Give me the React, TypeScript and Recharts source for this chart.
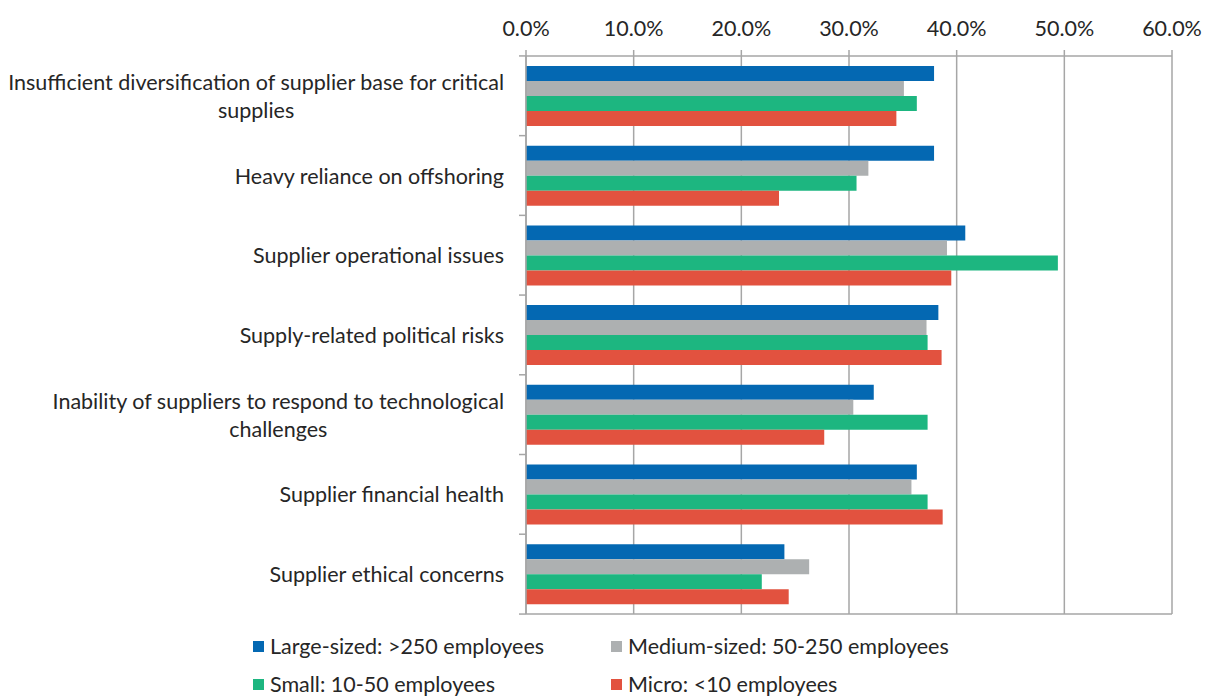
import React from 'react';
import { BarChart, Bar, XAxis, YAxis, CartesianGrid } from 'recharts';

const categories = [
  'Insufficient diversification of supplier base for critical supplies',
  'Heavy reliance on offshoring',
  'Supplier operational issues',
  'Supply-related political risks',
  'Inability of suppliers to respond to technological challenges',
  'Supplier financial health',
  'Supplier ethical concerns',
];

const largeSized = [37.9, 37.9, 40.8, 38.3, 32.3, 36.3, 24.0];
const mediumSized = [35.1, 31.8, 39.1, 37.2, 30.4, 35.8, 26.3];
const smallSized = [36.3, 30.7, 49.4, 37.3, 37.3, 37.3, 21.9];
const microSized = [34.4, 23.5, 39.5, 38.6, 27.7, 38.7, 24.4];

const xTicks = [0, 10, 20, 30, 40, 50, 60];

const seriesList = [
  { key: 'large', name: 'Large-sized: >250 employees', color: '#0468b2' },
  { key: 'medium', name: 'Medium-sized: 50-250 employees', color: '#adb0b1' },
  { key: 'small', name: 'Small: 10-50 employees', color: '#1db680' },
  { key: 'micro', name: 'Micro: <10 employees', color: '#e2523f' },
];

const data = categories.map((name, i) => ({
  name,
  large: largeSized[i],
  medium: mediumSized[i],
  small: smallSized[i],
  micro: microSized[i],
}));

const WIDTH = 1210;
const HEIGHT = 697;
const X_AXIS_HEIGHT = 40;
const MARGIN = { top: 56 - X_AXIS_HEIGHT, right: 38, bottom: 82, left: 0 };
const Y_AXIS_WIDTH = 526;
const FONT = 'Lato, "Open Sans", sans-serif';
const FONT_SIZE = 21.5;
const GRID = '#a6a6a6';
const TEXT = '#262626';
const bandSize = (HEIGHT - 56 - MARGIN.bottom) / categories.length;

const wrap = (text: string, maxChars: number) => {
  const words = text.split(' ');
  const lines: string[] = [];
  let cur = '';
  words.forEach((w) => {
    const next = cur ? cur + ' ' + w : w;
    if (next.length > maxChars && cur) {
      lines.push(cur);
      cur = w;
    } else {
      cur = next;
    }
  });
  if (cur) lines.push(cur);
  return lines;
};

const CategoryTick = (props: any) => {
  const { x, y, payload, index } = props;
  const lines = wrap(payload.value, 58);
  const axisX = x + 8;
  return (
    <g>
      <line x1={axisX - 7} x2={axisX} y1={y - bandSize / 2} y2={y - bandSize / 2} stroke={GRID} strokeWidth={1.5} />
      {index === categories.length - 1 && (
        <line x1={axisX - 7} x2={axisX} y1={y + bandSize / 2} y2={y + bandSize / 2} stroke={GRID} strokeWidth={1.5} />
      )}
      <foreignObject x={0} y={y - 38} width={axisX - 22} height={76}>
        <div
          style={{
            display: 'flex',
            height: '100%',
            alignItems: 'center',
            justifyContent: 'flex-end',
            fontFamily: FONT,
            fontSize: FONT_SIZE,
            color: TEXT,
          }}
        >
          <div style={{ textAlign: 'center', lineHeight: '28px', whiteSpace: 'nowrap' }}>
            {lines.map((l, i) => (
              <div key={i}>{l}</div>
            ))}
          </div>
        </div>
      </foreignObject>
    </g>
  );
};

const LegendBlock = () => (
  <div
    style={{
      position: 'absolute',
      left: 253,
      top: 633,
      display: 'grid',
      gridTemplateColumns: '358px 420px',
      rowGap: 12,
      fontFamily: FONT,
      fontSize: FONT_SIZE,
      color: TEXT,
    }}
  >
    {seriesList.map((s) => (
      <div key={s.key} style={{ display: 'flex', alignItems: 'center', height: 26 }}>
        <span style={{ width: 11, height: 11, background: s.color, marginRight: 6, display: 'inline-block' }} />
        <span>{s.name}</span>
      </div>
    ))}
  </div>
);

export default function App() {
  return (
    <div style={{ position: 'absolute', left: 0, top: 0, width: WIDTH, height: HEIGHT, background: '#fff' }}>
      <BarChart
        width={WIDTH}
        height={HEIGHT}
        data={data}
        layout="vertical"
        margin={MARGIN}
        barCategoryGap="12.5%"
        barGap={0}
      >
        <CartesianGrid xAxisId="top" horizontal={false} stroke={GRID} strokeWidth={1.5} />
        <XAxis
          xAxisId="top"
          type="number"
          orientation="top"
          domain={[0, 60]}
          ticks={xTicks}
          interval={0}
          tickFormatter={(v: number) => v.toFixed(1) + '%'}
          axisLine={{ stroke: GRID, strokeWidth: 1.5 }}
          tickLine={{ stroke: GRID, strokeWidth: 1.5 }}
          tickSize={6}
          tickMargin={14}
          height={X_AXIS_HEIGHT}
          tick={{ fill: TEXT, fontSize: FONT_SIZE, fontFamily: FONT }}
        />
        <XAxis
          xAxisId="bottom"
          type="number"
          orientation="bottom"
          domain={[0, 60]}
          ticks={xTicks}
          tick={false}
          tickLine={false}
          height={1}
          axisLine={{ stroke: GRID, strokeWidth: 1.5 }}
        />
        <YAxis
          type="category"
          dataKey="name"
          width={Y_AXIS_WIDTH}
          interval={0}
          tickLine={false}
          axisLine={{ stroke: GRID, strokeWidth: 1.5 }}
          tick={<CategoryTick />}
        />
        {seriesList.map((s) => (
          <Bar
            key={s.key}
            xAxisId="top"
            dataKey={s.key}
            name={s.name}
            fill={s.color}
            isAnimationActive={false}
          />
        ))}
      </BarChart>
      <LegendBlock />
    </div>
  );
}
